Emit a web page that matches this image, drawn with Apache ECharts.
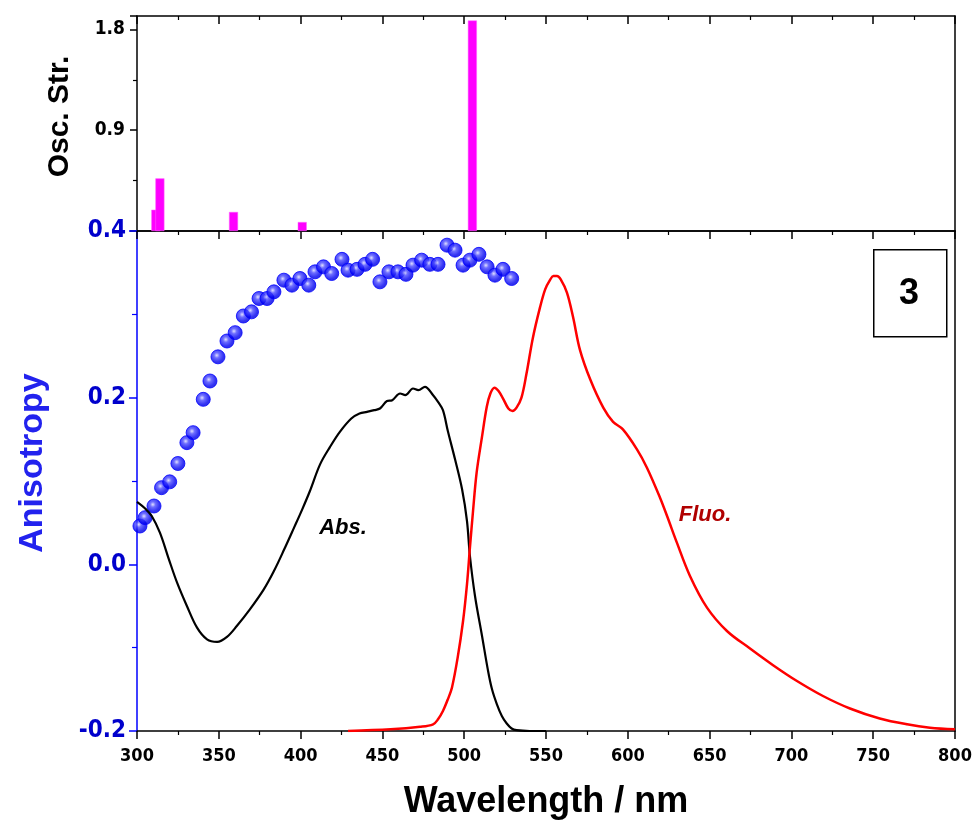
<!DOCTYPE html>
<html>
<head>
<meta charset="utf-8">
<script src="https://cdn.jsdelivr.net/npm/echarts@6/dist/echarts.min.js"></script>
<style>
html,body{margin:0;padding:0;background:#fff;}
#main{width:976px;height:825px;}
</style>
</head>
<body>
<div id="main"></div>
<script>
// ---------- data ----------
const oscWl = [311.5, 314, 359, 401, 505];
const oscStr = [0.19, 0.47, 0.17, 0.08, 1.88];

const absWl = [300,305,309,314,319.5,324.5,330.5,336.7,342.8,349,355,361,369,377.5,383.7,390,396,401,405.7,411.9,418,424,431,436,440.6,445,448.5,452.8,456,460.8,464,468.7,472,476,481,484,487,490,494.4,498.7,501.7,503.5,506.6,510.9,514.5,517,520,523,526,529,532,540,550];
const absVal = [0.075,0.067,0.058,0.038,0.006,-0.022,-0.050,-0.076,-0.090,-0.093,-0.087,-0.074,-0.054,-0.030,-0.008,0.018,0.044,0.066,0.088,0.120,0.141,0.159,0.175,0.181,0.183,0.185,0.187,0.196,0.197,0.205,0.203,0.211,0.209,0.213,0.203,0.195,0.185,0.160,0.126,0.090,0.052,0.010,-0.038,-0.086,-0.127,-0.150,-0.168,-0.182,-0.191,-0.197,-0.199,-0.200,-0.200];

const fluoWl = [429,455,473,481,484,487,490,492.5,496,499.3,501.7,503.5,505.4,507.6,510.8,513.8,516,518.5,521,524,527,529.5,532,535,538,542,546.3,549.5,552.4,554.5,556.7,559,562.8,566.5,570.8,577,585,591,597,605.6,611.7,619.7,624,630,638,648.4,660.6,674.7,688.8,703.4,719.3,735.8,754,770.7,784.7,800];
const fluoVal = [-0.200,-0.198,-0.195,-0.192,-0.186,-0.176,-0.162,-0.148,-0.112,-0.068,-0.024,0.020,0.064,0.110,0.152,0.189,0.205,0.212,0.208,0.198,0.187,0.184,0.188,0.200,0.228,0.272,0.308,0.330,0.341,0.346,0.346,0.342,0.326,0.297,0.257,0.222,0.188,0.171,0.162,0.138,0.116,0.080,0.058,0.026,-0.014,-0.052,-0.080,-0.101,-0.121,-0.140,-0.158,-0.173,-0.185,-0.192,-0.196,-0.198];

const anisWl = [301.8,305,310.4,315,320,325,330.5,334.3,340.5,344.6,349.5,355,360,365,370,374.6,379.5,383.7,389.8,394.7,399.6,405,408.8,414,419,425.3,429,434.5,439.4,444,448.5,454,459.5,464.4,468.7,474,479,484,489.5,494.4,499.3,503.5,509,514,518.8,523.7,529];
const anisVal = [0.046,0.056,0.070,0.092,0.099,0.121,0.146,0.158,0.198,0.220,0.249,0.268,0.278,0.298,0.303,0.319,0.319,0.327,0.341,0.335,0.343,0.335,0.351,0.357,0.349,0.366,0.353,0.354,0.360,0.366,0.339,0.351,0.351,0.348,0.359,0.365,0.360,0.360,0.383,0.377,0.359,0.365,0.372,0.357,0.347,0.354,0.343];

const xTicks = [300,350,400,450,500,550,600,650,700,750,800];
const oscTicks = [0.9, 1.8];
const anisTicks = [-0.2, 0.0, 0.2, 0.4];

// ---------- chart ----------
const zip = (a, b) => a.map((v, i) => [v, b[i]]);
const NARROW = "'Liberation Sans Narrow','DejaVu Sans Condensed','Arial Narrow',sans-serif";
const SANS = "'Liberation Sans',Arial,sans-serif";
const BLUE = '#0000ff';

const chart = echarts.init(document.getElementById('main'));

function xAx(grid, pos, opts) {
  return Object.assign({
    gridIndex: grid, type: 'value', min: 300, max: 800, interval: 50, position: pos,
    axisLine: {show: true, onZero: false, lineStyle: {color: '#000', width: 1.5}},
    axisTick: {show: false},
    minorTick: {show: false},
    axisLabel: {show: false},
    splitLine: {show: false}
  }, opts);
}

const option = {
  animation: false,
  backgroundColor: '#fff',
  grid: [
    {left: 137, right: 21, top: 16, height: 215},
    {left: 137, right: 21, top: 231, bottom: 93}
  ],
  xAxis: [
    xAx(0, 'top', {
      axisTick: {show: true, inside: true, length: 8, lineStyle: {color: '#000', width: 1.5}},
      minorTick: {show: true, splitNumber: 2, length: 4, lineStyle: {color: '#000', width: 1.2}}
    }),
    xAx(0, 'bottom', {}),
    xAx(1, 'top', {
      axisTick: {show: true, inside: true, length: 8, lineStyle: {color: '#000', width: 1.5}},
      minorTick: {show: true, splitNumber: 2, length: 4, lineStyle: {color: '#000', width: 1.2}}
    }),
    xAx(1, 'bottom', {
      axisTick: {show: true, inside: false, length: 8, lineStyle: {color: '#000', width: 1.5}},
      minorTick: {show: true, splitNumber: 2, length: 4, lineStyle: {color: '#000', width: 1.2}},
      axisLabel: {show: true, margin: 16, color: '#000', fontFamily: NARROW, fontWeight: 'bold', fontSize: 18,
        formatter: v => xTicks.includes(v) ? String(v) : ''},
      name: 'Wavelength / nm', nameLocation: 'middle', nameGap: 53,
      nameTextStyle: {fontFamily: SANS, fontWeight: 'bold', fontSize: 36, color: '#000'}
    })
  ],
  yAxis: [
    {gridIndex: 0, type: 'value', min: 0, max: 1.92, interval: 0.9, position: 'left',
      axisLine: {show: true, onZero: false, lineStyle: {color: '#000', width: 1.5}},
      axisTick: {show: true, inside: false, length: 7, lineStyle: {color: '#000', width: 1.5}},
      minorTick: {show: true, splitNumber: 2, length: 4, lineStyle: {color: '#000', width: 1.2}},
      axisLabel: {show: true, margin: 12, color: '#000', fontFamily: NARROW, fontWeight: 'bold', fontSize: 19,
        formatter: v => oscTicks.some(t => Math.abs(t - v) < 1e-6) ? v.toFixed(1) : ''},
      splitLine: {show: false},
      name: 'Osc. Str.', nameLocation: 'middle', nameRotate: 90, nameGap: 62,
      nameTextStyle: {fontFamily: SANS, fontWeight: 'bold', fontSize: 30, color: '#000', padding: [0, 0, 0, 14]}
    },
    {gridIndex: 0, type: 'value', min: 0, max: 1.92, position: 'right',
      axisLine: {show: true, onZero: false, lineStyle: {color: '#000', width: 1.5}},
      axisTick: {show: false}, axisLabel: {show: false}, splitLine: {show: false}},
    {gridIndex: 1, type: 'value', min: -0.2, max: 0.4, interval: 0.2, position: 'left',
      axisLine: {show: true, onZero: false, lineStyle: {color: BLUE, width: 1.5}},
      axisTick: {show: true, inside: false, length: 8, lineStyle: {color: BLUE, width: 1.5}},
      minorTick: {show: true, splitNumber: 2, length: 5, lineStyle: {color: BLUE, width: 1.2}},
      axisLabel: {show: true, margin: 11, color: '#0000cc', fontFamily: NARROW, fontWeight: 'bold', fontSize: 24,
        formatter: v => anisTicks.some(t => Math.abs(t - v) < 1e-6) ? v.toFixed(1) : ''},
      splitLine: {show: false},
      name: 'Anisotropy', nameLocation: 'middle', nameRotate: 90, nameGap: 87,
      nameTextStyle: {fontFamily: SANS, fontWeight: 'bold', fontSize: 34, color: '#2222ee', padding: [0, 0, 0, 36]}
    },
    {gridIndex: 1, type: 'value', min: -0.2, max: 0.4, position: 'right',
      axisLine: {show: true, onZero: false, lineStyle: {color: '#000', width: 1.5}},
      axisTick: {show: false}, axisLabel: {show: false}, splitLine: {show: false}}
  ],
  series: [
    {type: 'bar', xAxisIndex: 0, yAxisIndex: 0, data: zip(oscWl, oscStr), barWidth: 9,
      itemStyle: {color: '#ff00ff', borderColor: '#ff66ff', borderWidth: 0.5}, z: 3},
    {type: 'scatter', xAxisIndex: 3, yAxisIndex: 2, data: zip(anisWl, anisVal), symbol: 'circle', symbolSize: 14,
      itemStyle: {
        color: {type: 'radial', x: 0.42, y: 0.4, r: 0.6, colorStops: [
          {offset: 0, color: '#d8d8ff'}, {offset: 0.3, color: '#4a4aff'}, {offset: 0.75, color: '#0000f0'}, {offset: 1, color: '#0000d8'}]},
        borderColor: '#0000ff', borderWidth: 1
      }, z: 3},
    {type: 'line', xAxisIndex: 3, yAxisIndex: 2, data: zip(absWl, absVal), showSymbol: false, smooth: 0.35,
      lineStyle: {color: '#000', width: 2.2}, z: 4},
    {type: 'line', xAxisIndex: 3, yAxisIndex: 2, data: zip(fluoWl, fluoVal), showSymbol: false, smooth: 0.35,
      lineStyle: {color: '#ff0000', width: 2.5}, z: 5}
  ],
  graphic: [
    {type: 'rect', left: 873, top: 249, shape: {width: 73, height: 87},
      style: {fill: '#fff', stroke: '#000', lineWidth: 1.5}, z: 10},
    {type: 'text', style: {text: '3', x: 909, y: 294, align: 'center', verticalAlign: 'middle',
      font: "bold 36px 'Liberation Sans', Arial, sans-serif", fill: '#000'}, z: 11},
    {type: 'text', style: {text: 'Abs.', x: 343, y: 528, align: 'center', verticalAlign: 'middle',
      font: "italic bold 22px 'Liberation Sans', Arial, sans-serif", fill: '#000'}, z: 11},
    {type: 'text', style: {text: 'Fluo.', x: 705, y: 515, align: 'center', verticalAlign: 'middle',
      font: "italic bold 22px 'Liberation Sans', Arial, sans-serif", fill: '#b00000'}, z: 11}
  ]
};
chart.setOption(option);
</script>
</body>
</html>
